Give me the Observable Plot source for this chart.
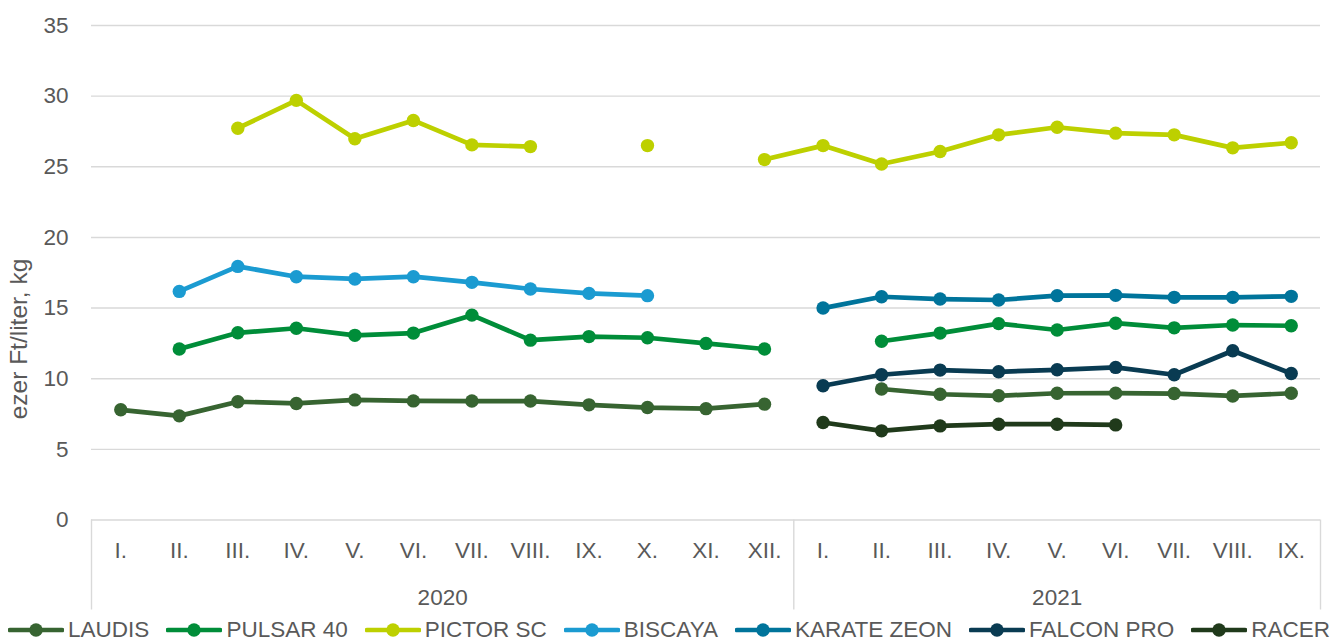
<!DOCTYPE html>
<html>
<head>
<meta charset="utf-8">
<script src="https://cdn.jsdelivr.net/npm/d3@7"></script>
<script src="https://cdn.jsdelivr.net/npm/@observablehq/plot@0.6"></script>
<style>
  html, body { margin: 0; padding: 0; background: #fff; }
  body { width: 1338px; height: 644px; overflow: hidden; font-family: "Liberation Sans", Arial, sans-serif; color: #595959; }
  #legend { display: flex; justify-content: center; align-items: center; gap: 17px; height: 29px; font-size: 22.5px; line-height: 29px; white-space: nowrap; }
  .item { display: flex; align-items: center; }
  .item svg { margin-right: 4px; }
</style>
</head>
<body>
<div id="chart"></div>
<div id="legend"></div>
<script>
// ---- data ----
const years = ["2020", "2021"];
const months2020 = ["I.", "II.", "III.", "IV.", "V.", "VI.", "VII.", "VIII.", "IX.", "X.", "XI.", "XII."];
const months2021 = ["I.", "II.", "III.", "IV.", "V.", "VI.", "VII.", "VIII.", "IX."];
const yTicks = [0, 5, 10, 15, 20, 25, 30, 35];
const yLabel = "ezer Ft/liter, kg";

const seriesNames = ["LAUDIS", "PULSAR 40", "PICTOR SC", "BISCAYA", "KARATE ZEON", "FALCON PRO", "RACER"];
const seriesColors = ["#376431", "#008d39", "#bdd000", "#1b9bd1", "#00749b", "#093b52", "#203a1b"];

const laudis    = [7.8, 7.37, 8.37, 8.25, 8.5, 8.43, 8.42, 8.42, 8.15, 7.96, 7.88, 8.2, null, 9.27, 8.9, 8.79, 8.97, 8.98, 8.95, 8.78, 8.97];
const pulsar40  = [null, 12.1, 13.25, 13.57, 13.07, 13.23, 14.5, 12.73, 12.98, 12.9, 12.5, 12.1, null, 12.65, 13.23, 13.9, 13.45, 13.93, 13.6, 13.8, 13.75];
const pictorSC  = [null, null, 27.73, 29.7, 26.98, 28.28, 26.55, 26.43, null, 26.5, null, 25.51, 26.5, 25.2, 26.08, 27.26, 27.8, 27.38, 27.26, 26.34, 26.7];
const biscaya   = [null, 16.18, 17.95, 17.22, 17.06, 17.22, 16.82, 16.35, 16.04, 15.88, null, null, null, null, null, null, null, null, null, null, null];
const karateZeon= [null, null, null, null, null, null, null, null, null, null, null, null, 15.0, 15.8, 15.64, 15.57, 15.88, 15.9, 15.76, 15.76, 15.83];
const falconPro = [null, null, null, null, null, null, null, null, null, null, null, null, 9.5, 10.28, 10.61, 10.49, 10.63, 10.8, 10.28, 11.98, 10.37];
const racer     = [null, null, null, null, null, null, null, null, null, null, null, null, 6.9, 6.31, 6.66, 6.78, 6.78, 6.73, null, null, null];
const seriesValues = [laudis, pulsar40, pictorSC, biscaya, karateZeon, falconPro, racer];

// ---- derived tables ----
const monthLabels = months2020.concat(months2021);
const idx = monthLabels.map((_, i) => i);
const n20 = months2020.length, n21 = months2021.length;
const yearCenters = [(n20 - 1) / 2, n20 + (n21 - 1) / 2];
const boundaries = [-0.5, n20 - 0.5, n20 + n21 - 0.5];

const rows = seriesNames.map((name, s) =>
  seriesValues[s].map((v, i) => ({series: name, i, value: v}))
);

const grey = "#d9d9d9";
const marks = [
  Plot.ruleY(yTicks, {stroke: grey, strokeWidth: 1.4}),
  Plot.axisY({ticks: yTicks, tickSize: 0, tickPadding: 23, label: null}),
  Plot.axisX({ticks: idx, tickFormat: d => monthLabels[d], tickSize: 0, tickPadding: 22.5, label: null}),
  Plot.axisX({ticks: yearCenters, tickFormat: d => years[yearCenters.indexOf(d)], tickSize: 0, tickPadding: 69, label: null}),
  Plot.axisX({ticks: boundaries, tickFormat: () => "", tickSize: 90, stroke: grey, strokeWidth: 1.4, label: null})
];
rows.forEach((data, s) => {
  marks.push(Plot.line(data, {x: "i", y: "value", stroke: seriesColors[s], strokeWidth: 4.7, strokeLinejoin: "round", strokeLinecap: "round"}));
  marks.push(Plot.dot(data.filter(d => d.value != null), {x: "i", y: "value", r: 6.7, fill: seriesColors[s], stroke: "none"}));
});

const chart = Plot.plot({
  width: 1338,
  height: 615,
  marginLeft: 91,
  marginRight: 18,
  marginTop: 25,
  marginBottom: 95.5,
  x: {type: "linear", domain: [boundaries[0], boundaries[2]], axis: null},
  y: {domain: [0, 35], axis: null},
  style: {fontFamily: "'Liberation Sans', Arial, sans-serif", fontSize: "22.5px", color: "#595959", background: "white", overflow: "visible"},
  marks
});

d3.select(chart).append("text")
  .attr("transform", "translate(27,339) rotate(-90)")
  .attr("text-anchor", "middle")
  .attr("fill", "#595959")
  .style("font-size", "24.5px")
  .text(yLabel);

document.getElementById("chart").appendChild(chart);

// ---- legend ----
const legend = d3.select("#legend");
seriesNames.forEach((name, s) => {
  const item = legend.append("div").attr("class", "item");
  const sw = item.append("svg").attr("width", 56).attr("height", 16);
  sw.append("line").attr("x1", 2).attr("x2", 54).attr("y1", 8).attr("y2", 8)
    .attr("stroke", seriesColors[s]).attr("stroke-width", 4.7).attr("stroke-linecap", "round");
  sw.append("circle").attr("cx", 28).attr("cy", 8).attr("r", 6.7).attr("fill", seriesColors[s]);
  item.append("span").text(name);
});
</script>
</body>
</html>
